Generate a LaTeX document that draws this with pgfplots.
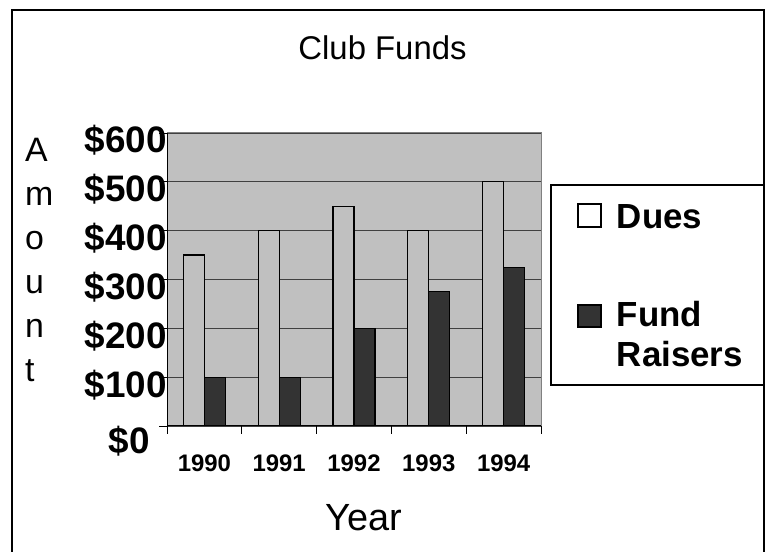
\documentclass[border=0pt]{standalone}
\usepackage{fontspec}
\setmainfont{Liberation Sans}
\usepackage{pgfplots}
\pgfplotsset{compat=1.18}
\definecolor{bg}{HTML}{C0C0C0}
\definecolor{fund}{HTML}{333333}
\definecolor{gridc}{HTML}{404040}
\definecolor{border}{HTML}{808080}
\begin{document}
\begin{tikzpicture}
\useasboundingbox (0bp,0bp) rectangle (770bp,552bp);
\draw[line width=2bp] (12bp,-5bp) -- (12bp,542bp) -- (763.5bp,542bp) -- (763.5bp,-5bp);
\begin{axis}[
  at={(167bp,126bp)}, anchor=south west,
  scale only axis, width=374bp, height=293bp,
  xmin=-0.5, xmax=4.5, ymin=0, ymax=600,
  ybar=0pt, bar width=21bp,
  axis background/.style={fill=bg},
  axis line style={draw=border, line width=1bp},
  tick align=outside,
  xtick pos=bottom, ytick pos=left,
  major tick length=8bp,
  tick style={black, line width=0.8bp},
  xtick={-0.5,0.5,1.5,2.5,3.5,4.5},
  xticklabels={},
  extra x ticks={0,1,2,3,4},
  extra x tick labels={1990,1991,1992,1993,1994},
  extra x tick style={major tick length=0pt,
     tick label style={font=\fontsize{24}{26}\selectfont\bfseries, anchor=base, inner sep=0pt, yshift=-45.7bp}},
  ytick={0,100,200,300,400,500,600},
  yticklabels={{\raisebox{-8bp}{\$0}\rule{17bp}{0pt}},\$100,\$200,\$300,\$400,\$500,\$600},
  yticklabel style={font=\fontsize{37}{40}\selectfont\bfseries, anchor=base east, inner sep=0pt, yshift=-20bp, xshift=8bp},
  ymajorgrids,
  major grid style={gridc, line width=0.8bp},
]
\addplot[fill=bg, draw=black, line width=1.3bp] coordinates {(0,350) (1,400) (2,450) (3,400) (4,500)};
\addplot[fill=fund, draw=black, line width=1.3bp] coordinates {(0,100) (1,100) (2,200) (3,275) (4,325)};
\draw[black, line width=1bp] (rel axis cs:0,1) -- (rel axis cs:0,0) -- (rel axis cs:1,0);
\end{axis}
\node[anchor=base, font=\fontsize{33}{38}\selectfont] at (382.5bp,492bp) {Club Funds};
\node[anchor=base, font=\fontsize{38}{40}\selectfont] at (364bp,22bp) {Year};
\foreach \l/\y in {A/162,m/206,o/250,u/294,n/338,t/382}
  \node[anchor=base west, inner sep=0pt, font=\fontsize{34}{36}\selectfont] at (25bp,552bp-\y bp) {\l};
\draw[line width=1.5bp] (551bp,167bp) rectangle (763.5bp,367bp);
\draw[fill=white, line width=1.2bp] (578bp,325bp) rectangle (601bp,348bp);
\draw[fill=fund, line width=1.2bp] (578bp,225bp) rectangle (601bp,247bp);
\node[anchor=base west, inner sep=0pt, font=\fontsize{35}{40}\selectfont\bfseries] at (616.7bp,323.7bp) {Dues};
\node[anchor=base west, inner sep=0pt, font=\fontsize{35}{40}\selectfont\bfseries] at (616.7bp,225.3bp) {Fund};
\node[anchor=base west, inner sep=0pt, font=\fontsize{35}{40}\selectfont\bfseries] at (616.7bp,185.3bp) {Raisers};
\end{tikzpicture}
\end{document}
